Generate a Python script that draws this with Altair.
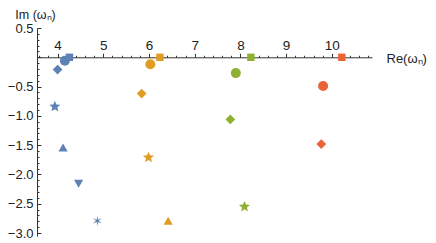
import math
import altair as alt
import pandas as pd

# ---- data ----
shape_names = ["square", "circle", "diamond", "star", "triangle-up", "triangle-down", "asterisk"]

blue_re = [4.26, 4.16, 4.00, 3.94, 4.12, 4.46, 4.87]
blue_im = [0.0, -0.06, -0.21, -0.84, -1.54, -2.16, -2.79]
orange_re = [6.24, 6.03, 5.84, 5.99, 6.42]
orange_im = [0.0, -0.12, -0.62, -1.71, -2.79]
green_re = [8.23, 7.90, 7.78, 8.09]
green_im = [0.0, -0.27, -1.06, -2.55]
red_re = [10.22, 9.81, 9.77]
red_im = [0.0, -0.49, -1.48]

series_names = ["blue", "orange", "green", "red"]
series_re = [blue_re, orange_re, green_re, red_re]
series_im = [blue_im, orange_im, green_im, red_im]

x_ticks = [round(3.6 + 0.2 * i, 1) for i in range(37)]      # majors at integers
y_ticks = [round(-3.0 + 0.1 * i, 1) for i in range(36)]     # majors every 0.5

rows = []
for s, xs, ys in zip(series_names, series_re, series_im):
    for i, (xv, yv) in enumerate(zip(xs, ys)):
        rows.append({"series": s, "shape": shape_names[i], "re": xv, "im": yv, "order": i})
df = pd.DataFrame(rows)

# ---- styles ----
colors = ["#5E81B5", "#E19C24", "#8FB032", "#EB6235"]


def star_path(n, r_in):
    pts = []
    for k in range(2 * n):
        r = 1.0 if k % 2 == 0 else r_in
        a = -math.pi / 2 + k * math.pi / n
        pts.append(f"{r * math.cos(a):.3f},{r * math.sin(a):.3f}")
    return "M" + "L".join(pts) + "Z"


shape_range = ["square", "circle", "diamond", star_path(5, 0.45), "triangle-up", "triangle-down", star_path(6, 0.25)]
marker_sizes = [55, 100, 95, 135, 85, 85, 110]
size_expr = (
    "[" + ",".join(str(v) for v in marker_sizes) + "]"
    "[indexof([" + ",".join(f"'{s}'" for s in shape_names) + "], datum.shape)]"
)

W, H = 335, 208
xdom = [3.55, 10.88]
ydom = [-3.05, 0.5]
axis_y_px = H * (ydom[1] - 0) / (ydom[1] - ydom[0])
FONT = "Liberation Sans"
LINE = "#333333"
TXT = "#222222"

x_major_test = "abs(datum.value - round(datum.value)) < 0.001"
y_major_test = "abs(datum.value * 2 - round(datum.value * 2)) < 0.001"

x_axis = alt.Axis(
    orient="top", offset=-axis_y_px, values=x_ticks,
    tickSize={"condition": {"test": x_major_test, "value": 4}, "value": 2},
    tickColor=LINE, domainColor=LINE, grid=False,
    labelExpr=f"{x_major_test} ? format(datum.value, '.0f') : ''",
    labelColor=TXT, labelFont=FONT, labelFontSize=13.5, labelPadding=1,
    labelOverlap=False, labelFlush=False, labelBound=False,
    title="Re(ωₙ)", titleFont=FONT, titleFontSize=13, titleFontWeight="normal",
    titleColor=TXT, titleAngle=0, titleAnchor="start", titleAlign="left",
    titleBaseline="middle", titleX=W + 14, titleY=1,
)

y_axis = alt.Axis(
    orient="right", offset=-W, values=y_ticks,
    tickSize={"condition": {"test": y_major_test, "value": 4}, "value": 2},
    tickColor=LINE, domainColor=LINE, grid=False,
    labelExpr=f"({y_major_test}) && abs(datum.value) > 0.001 ? format(datum.value, '.1f') : ''",
    labelAlign="right", labelPadding=-8, labelColor=TXT, labelFont=FONT, labelFontSize=13,
    labelOverlap=False, labelFlush=False, labelBound=False,
    title="Im (ωₙ)", titleFont=FONT, titleFontSize=12.5, titleFontWeight="normal",
    titleColor=TXT, titleAngle=0, titleAlign="center", titleBaseline="middle",
    titleX=-2, titleY=-14,
)

chart = alt.Chart(df).transform_calculate(
    msize=size_expr
).mark_point(filled=True, opacity=1, strokeWidth=0).encode(
    x=alt.X("re:Q", scale=alt.Scale(domain=xdom, nice=False, zero=False), axis=x_axis),
    y=alt.Y("im:Q", scale=alt.Scale(domain=ydom, nice=False, zero=False), axis=y_axis),
    color=alt.Color("series:N", scale=alt.Scale(domain=series_names, range=colors), legend=None),
    shape=alt.Shape("shape:N", scale=alt.Scale(domain=shape_names, range=shape_range), legend=None),
    size=alt.Size("msize:Q", scale=None),
    order=alt.Order("order:Q", sort="descending"),
).properties(
    width=W, height=H,
    autosize=alt.AutoSizeParams(type="none"),
    padding={"left": 29, "top": 20, "right": 56, "bottom": 4},
).configure_view(stroke=None)

chart.save("out.html", embed_options={"renderer": "svg", "actions": False})
